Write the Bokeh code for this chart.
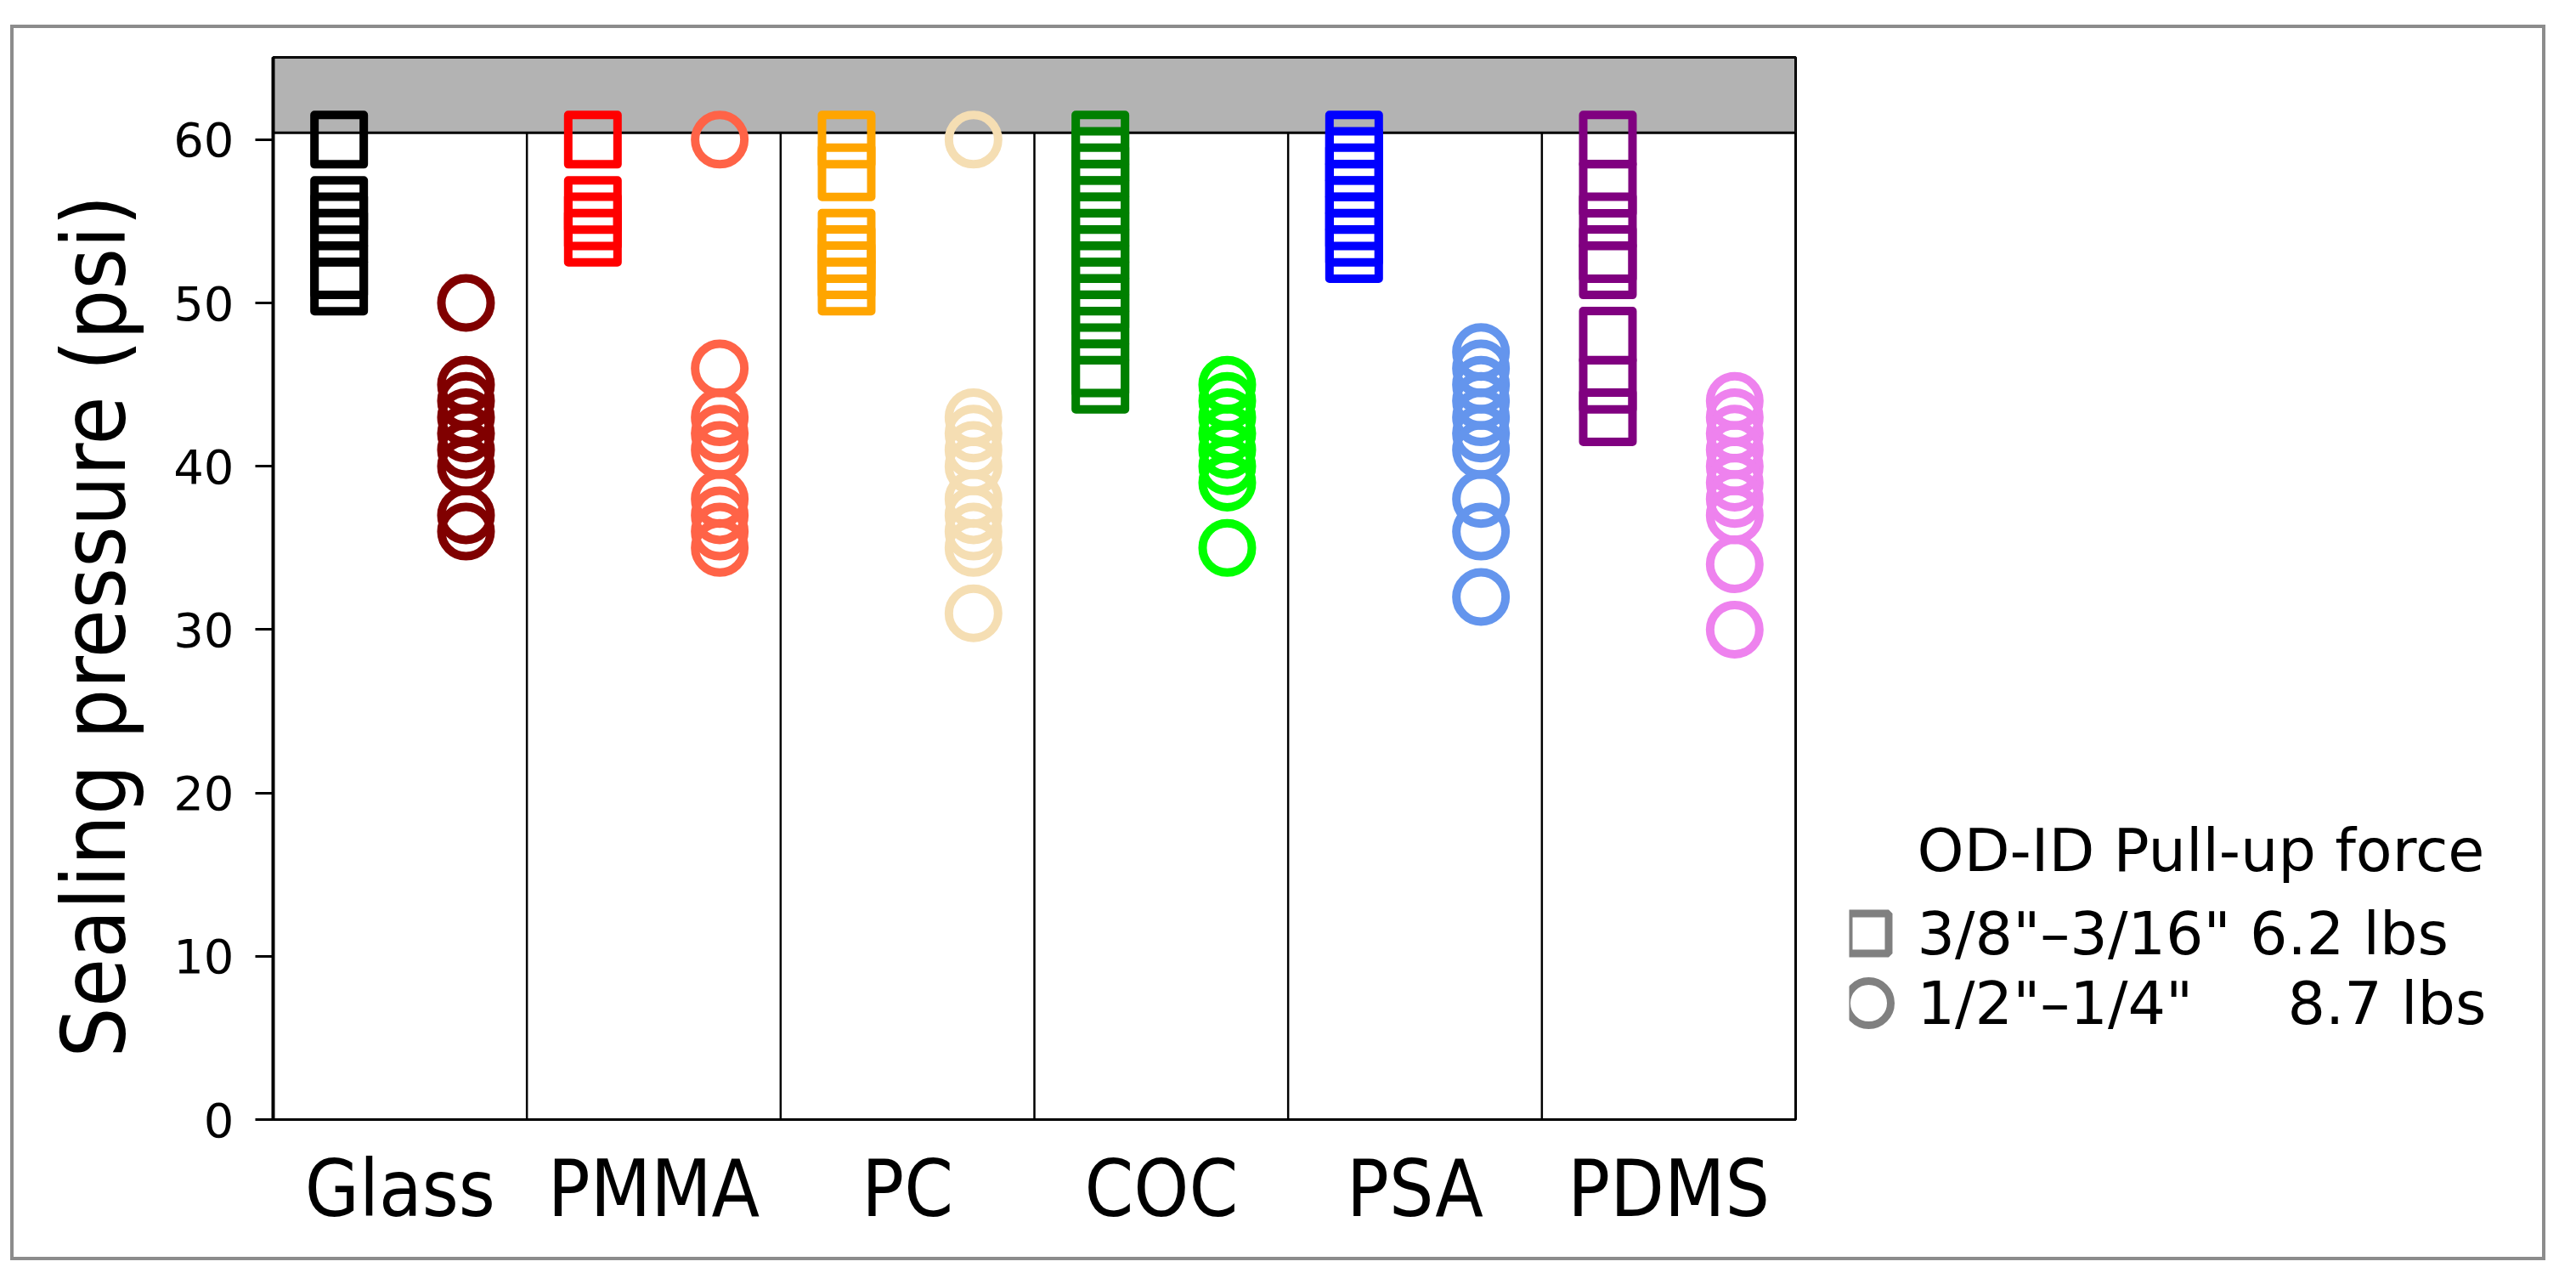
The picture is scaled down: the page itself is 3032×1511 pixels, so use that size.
from bokeh.plotting import figure
from bokeh.models import ColumnDataSource, FixedTicker, Range1d
from bokeh.layouts import row
from bokeh.core.properties import value
from bokeh.embed import file_html
from bokeh.resources import INLINE

# ---------------- data ----------------
categories = ["Glass", "PMMA", "PC", "COC", "PSA", "PDMS"]

# 3/8"-3/16" fittings (squares), sealing pressure in psi
sq_glass = [60, 56, 55, 54, 52, 51]
sq_pmma = [60, 56, 55, 54]
sq_pc = [60, 58, 54, 53, 52, 51]
sq_coc = [60, 59, 58, 57, 56, 55, 54, 53, 52, 51, 50, 49, 48, 46, 45]
sq_psa = [60, 59, 58, 57, 56, 55, 54, 53]
sq_pdms = [60, 57, 55, 53, 52, 48, 45, 43]

# 1/2"-1/4" fittings (circles)
ci_glass = [50, 45, 44, 43, 42, 41, 40, 37, 36]
ci_pmma = [60, 46, 43, 42, 41, 38, 37, 36, 35]
ci_pc = [60, 43, 42, 41, 40, 38, 37, 36, 35, 31]
ci_coc = [45, 44, 43, 42, 41, 40, 39, 35]
ci_psa = [47, 46, 45, 44, 43, 42, 41, 38, 36, 32]
ci_pdms = [44, 43, 42, 41, 40, 39, 38, 37, 34, 30]

sq_colors = ["#000000", "#FF0000", "#FFA500", "#008000", "#0000FF", "#800080"]
ci_colors = ["#800000", "#FF6347", "#F5DEB3", "#00FF00", "#6495ED", "#EE82EE"]

y_ticks = [0, 10, 20, 30, 40, 50, 60]
y_label = "Sealing pressure (psi)"
legend_title = "OD-ID Pull-up force"
legend_labels = ['3/8"\u20133/16" 6.2 lbs', '1/2"\u20131/4"' + "\u00a0" * 5 + "8.7 lbs"]

Y_MAX = 65.04
BAND_LOW = 60.42
SQ_OFF = 0.26
CI_OFF = 0.76

squares = [sq_glass, sq_pmma, sq_pc, sq_coc, sq_psa, sq_pdms]
circles = [ci_glass, ci_pmma, ci_pc, ci_coc, ci_psa, ci_pdms]

sx, sy, sc = [], [], []
cx, cy, cc = [], [], []
for i, (sv, cv) in enumerate(zip(squares, circles)):
    for v in sv:
        sx.append(i + SQ_OFF); sy.append(v); sc.append(sq_colors[i])
    for v in cv:
        cx.append(i + CI_OFF); cy.append(v); cc.append(ci_colors[i])

sq_src = ColumnDataSource(dict(x=sx, y=sy, c=sc))
ci_src = ColumnDataSource(dict(x=cx, y=cy, c=cc))

COND = "DejaVu Sans Condensed, DejaVu Sans"

# geometry (canvas origin sits inside the grey page frame)
W1 = 2160
W2 = 816
H = 1446
TOP = 34
BOTTOM = 162

# ---------------- main figure ----------------
p = figure(width=W1, height=H, x_range=Range1d(0, len(categories)), y_range=Range1d(0, Y_MAX),
           output_backend="svg", toolbar_location=None,
           min_border_left=305, min_border_right=W1 - 305 - 1792,
           min_border_top=TOP, min_border_bottom=BOTTOM)
p.xgrid.visible = False
p.ygrid.visible = False
p.outline_line_color = "black"
p.outline_line_width = 3
p.background_fill_color = "white"
p.border_fill_color = "white"

# grey strip on top
p.quad(left=[0], right=[len(categories)], bottom=[BAND_LOW], top=[Y_MAX],
       fill_color="#b3b3b3", line_color="black", line_width=3)
# category dividers
divs = list(range(1, len(categories)))
p.segment(x0=divs, y0=[0] * len(divs), x1=divs, y1=[BAND_LOW] * len(divs),
          line_color="black", line_width=2.5)

p.scatter("x", "y", source=sq_src, marker="square", size=58, line_width=10,
          line_color="c", fill_color=None, line_join="round")
p.scatter("x", "y", source=ci_src, marker="circle", size=58, line_width=10,
          line_color="c", fill_color=None)

xa = p.xaxis[0]
xa.ticker = FixedTicker(ticks=[i + 0.5 for i in range(len(categories))])
xa.major_label_overrides = {i + 0.5: c for i, c in enumerate(categories)}
xa.major_tick_line_color = None
xa.minor_tick_line_color = None
xa.axis_line_width = 3
xa.major_label_text_font_size = "92px"
xa.major_label_text_font = COND
xa.major_label_text_color = "black"
xa.major_label_standoff = 22

ya = p.yaxis[0]
ya.ticker = FixedTicker(ticks=y_ticks)
ya.major_tick_out = 21
ya.major_tick_in = 0
ya.major_tick_line_width = 3
ya.minor_tick_line_color = None
ya.axis_line_width = 4
ya.major_label_text_font_size = "56px"
ya.major_label_text_font = "DejaVu Sans"
ya.major_label_text_color = "black"
ya.major_label_standoff = 25
# trailing no-break spaces push the centred label down to centre it on 0-60
ya.axis_label = y_label + "\u00a0" * 3
ya.axis_label_text_font = COND
ya.axis_label_text_font_size = "104px"
ya.axis_label_text_font_style = "normal"
ya.axis_label_text_color = "black"
ya.axis_label_standoff = 29

# ---------------- legend panel ----------------
q = figure(width=W2, height=H, x_range=Range1d(0, W2), y_range=Range1d(H - BOTTOM, TOP),
           output_backend="svg", toolbar_location=None,
           min_border_left=0, min_border_right=0, min_border_top=TOP, min_border_bottom=BOTTOM,
           x_axis_location=None, y_axis_location=None)
q.grid.visible = False
q.outline_line_color = None
q.background_fill_color = "white"
q.border_fill_color = "white"

leg_src = ColumnDataSource(dict(x=[23, 23], y=[1065, 1147], m=["square", "circle"],
                                s=[47, 52], t=legend_labels, tx=[80, 80]))
q.scatter("x", "y", source=leg_src, marker="m", size="s", line_width=9,
          line_color="#808080", fill_color=None)
q.text("tx", "y", text="t", source=leg_src, text_baseline="middle", text_align="left",
       text_font=value("DejaVu Sans"), text_font_size="70px", text_color="black")
q.text(x=[414], y=[967], text=[legend_title], text_baseline="middle", text_align="center",
       text_font=value("DejaVu Sans"), text_font_size="70px", text_color="black")

layout = row(p, q, styles={"border": "4px solid #8c8c8c", "margin-left": "12px",
                           "margin-top": "29px"})
open("out.html", "w").write(file_html(layout, INLINE))
